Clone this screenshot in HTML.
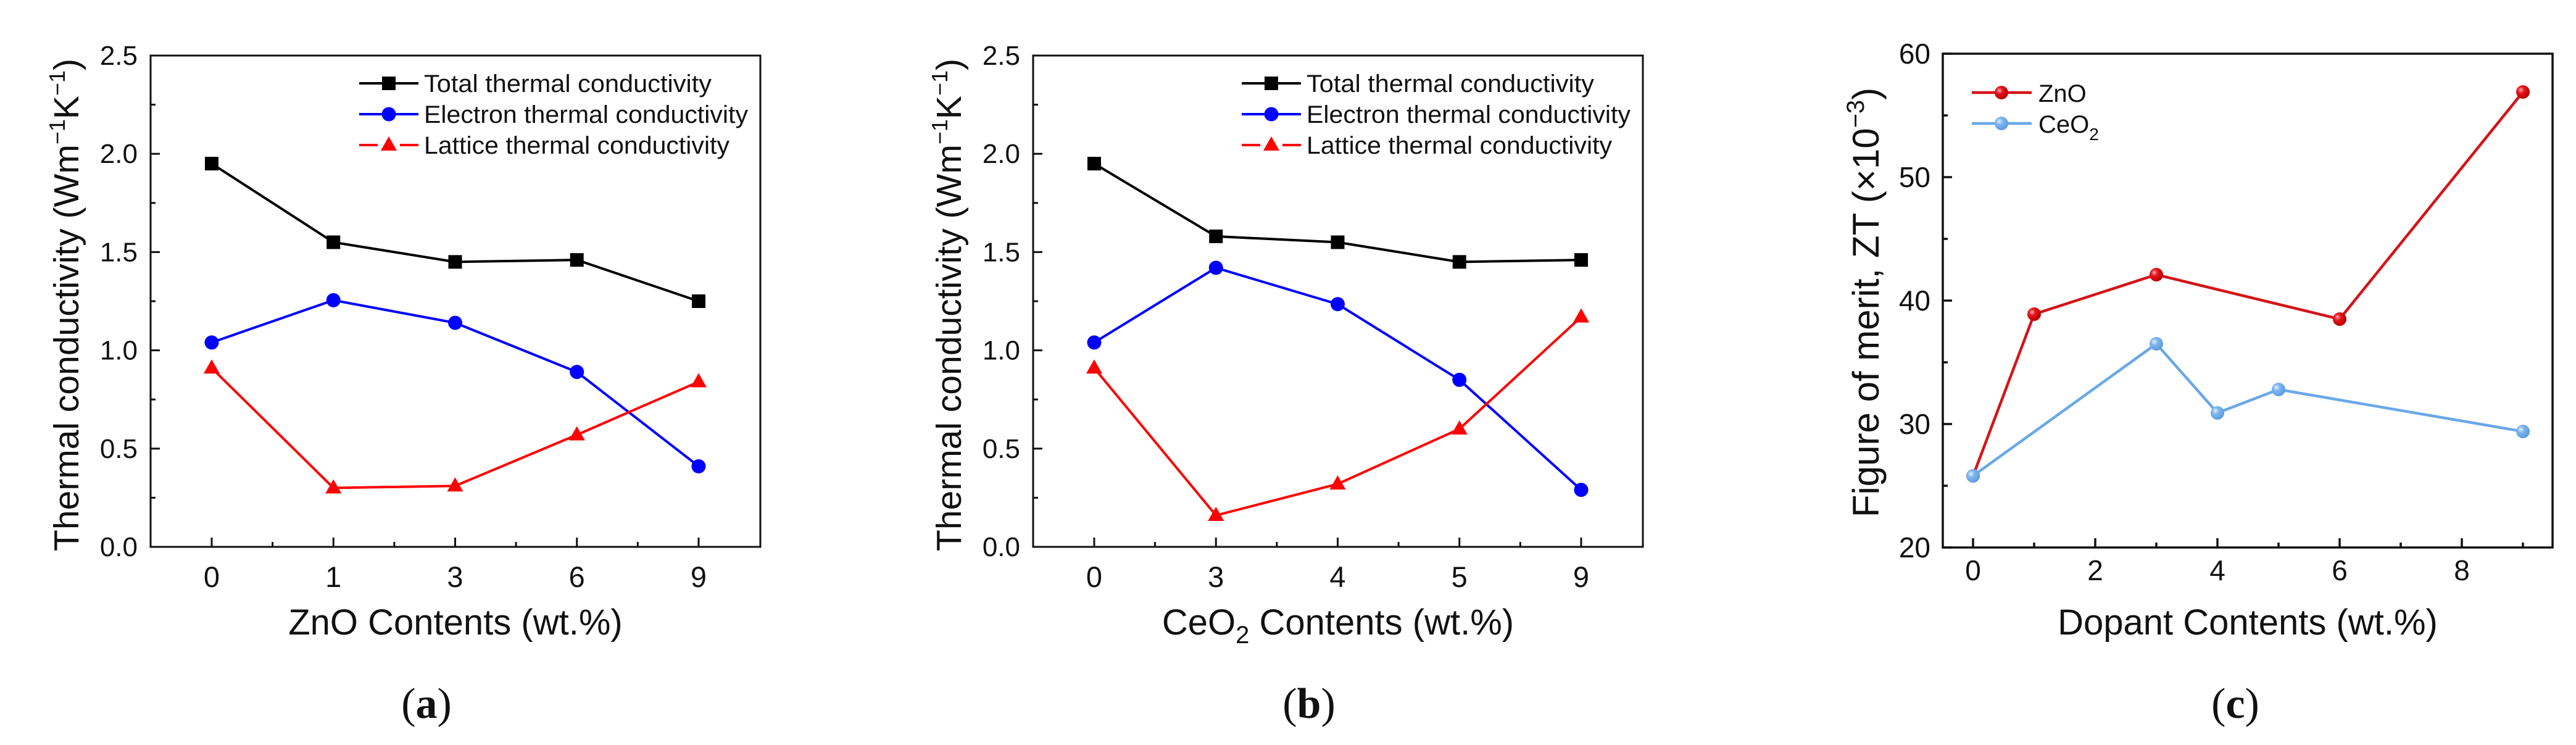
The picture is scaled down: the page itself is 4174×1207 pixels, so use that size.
<!DOCTYPE html>
<html><head><meta charset="utf-8">
<style>
html,body{margin:0;padding:0;background:#fff;}
svg{display:block;}
text{font-family:"Liberation Sans",Arial,sans-serif;fill:#111;}
.serif{font-family:"Liberation Serif","Times New Roman",serif;}
</style></head>
<body>
<svg id="fig" width="4174" height="1207" viewBox="0 0 4174 1207" xmlns="http://www.w3.org/2000/svg">
<defs>
<radialGradient id="gRed" cx="0.35" cy="0.35" r="0.7"><stop offset="0" stop-color="#ffb0b0"/><stop offset="0.35" stop-color="#e8141a"/><stop offset="1" stop-color="#b00000"/></radialGradient>
<radialGradient id="gBlue" cx="0.35" cy="0.35" r="0.7"><stop offset="0" stop-color="#e6f2ff"/><stop offset="0.35" stop-color="#7fb6ee"/><stop offset="1" stop-color="#5a9ae0"/></radialGradient>
</defs>
</svg>
<script>
// ---------- Data ----------
const catsA = ["0","1","3","6","9"];
const totalA = [1.95,1.55,1.45,1.46,1.25];
const electronA = [1.04,1.255,1.14,0.89,0.41];
const latticeA = [0.91,0.30,0.31,0.57,0.84];

const catsB = ["0","3","4","5","9"];
const totalB = [1.95,1.58,1.55,1.45,1.46];
const electronB = [1.04,1.42,1.235,0.85,0.29];
const latticeB = [0.91,0.16,0.32,0.60,1.17];

const yTicksAB = ["0.0","0.5","1.0","1.5","2.0","2.5"];

const znoX = [0,1,3,6,9];
const znoZT = [25.8,38.9,42.1,38.5,56.9];
const ceoX = [0,3,4,5,9];
const ceoZT = [25.8,36.5,30.9,32.8,29.4];
const xTicksC = [0,2,4,6,8];
const yTicksC = [20,30,40,50,60];

const NS = "http://www.w3.org/2000/svg";
const svg = document.getElementById('fig');
function mk(tag, attrs, parent){
  const e = document.createElementNS(NS, tag);
  for (const k in attrs) e.setAttribute(k, attrs[k]);
  (parent||svg).appendChild(e);
  return e;
}

function panelAB(off, cats, tot, ele, lat, xTitleParts, label, gname){
  const g = mk('g', {});
  
  
  const L = 244+off, R = 1232+off, T = 90, B = 886;
  const x0 = 343+off, dx = 197.25;
  const xs = i => x0 + i*dx;
  const ys = v => B - (v/2.5)*(B-T);
  // frame
  const fr = mk('rect', {x:L, y:T, width:R-L, height:B-T, fill:'none', stroke:'#111', 'stroke-width':3}, g);
  
  
  // y ticks
  yTicksAB.forEach((t, i) => {
    const v = parseFloat(t);
    const y = ys(v);
    mk('line', {x1:L, x2:L+15, y1:y, y2:y, stroke:'#111', 'stroke-width':3}, g);
    if (i < yTicksAB.length-1) {
      const ym = ys(v+0.25);
      mk('line', {x1:L, x2:L+8, y1:ym, y2:ym, stroke:'#111', 'stroke-width':3}, g);
    }
    const tx = mk('text', {x:L-21, y:y+15, 'font-size':44, 'text-anchor':'end'}, g);
    tx.textContent = t;
    
    
  });
  // x ticks
  cats.forEach((c, i) => {
    const x = xs(i);
    mk('line', {x1:x, x2:x, y1:B, y2:B-15, stroke:'#111', 'stroke-width':3}, g);
    if (i < cats.length-1) {
      const xm = x + dx/2;
      mk('line', {x1:xm, x2:xm, y1:B, y2:B-8, stroke:'#111', 'stroke-width':3}, g);
    }
    const tx = mk('text', {x:x, y:951, 'font-size':47, 'text-anchor':'middle'}, g);
    tx.textContent = c;
    
    
  });
  // series
  const series = [
    {vals:tot, color:'#000', m:'square', name:'total-series'},
    {vals:ele, color:'#0000ff', m:'circle', name:'electron-series'},
    {vals:lat, color:'#ff0000', m:'triangle', name:'lattice-series'}
  ];
  function marker(type, x, y, color, parent){
    let e;
    if (type==='square') e = mk('rect', {x:x-11, y:y-11, width:22, height:22, fill:color}, parent);
    else if (type==='circle') e = mk('circle', {cx:x, cy:y, r:11.5, fill:color}, parent);
    else e = mk('polygon', {points:`${x},${y-14} ${x-13},${y+9} ${x+13},${y+9}`, fill:color}, parent);
    return e;
  }
  series.forEach(s => {
    const sg = mk('g', {}, g);
    
    
    const pts = s.vals.map((v,i)=>`${xs(i)},${ys(v)}`).join(' ');
    mk('polyline', {points:pts, fill:'none', stroke:s.color, 'stroke-width':4}, sg);
    s.vals.forEach((v,i)=>{
      const m = marker(s.m, xs(i), ys(v), s.color, sg);
      
      
    });
  });
  // legend
  const lg = mk('g', {}, g);
  
  
  const legTexts = ["Total thermal conductivity","Electron thermal conductivity","Lattice thermal conductivity"];
  const legLens = [466, 525, 495];
  series.forEach((s, i) => {
    const y = 135 + i*50;
    const eg = mk('g', {}, lg);
    
    
    if (s.m === 'triangle') {
      mk('line', {x1:582+off, x2:612+off, y1:y, y2:y, stroke:s.color, 'stroke-width':4}, eg);
      mk('line', {x1:648+off, x2:678+off, y1:y, y2:y, stroke:s.color, 'stroke-width':4}, eg);
    } else {
      mk('line', {x1:582+off, x2:678+off, y1:y, y2:y, stroke:s.color, 'stroke-width':4}, eg);
    }
    marker(s.m, 630+off, y, s.color, eg);
    const tx = mk('text', {x:687+off, y:y+14, 'font-size':40, textLength:legLens[i], lengthAdjust:'spacingAndGlyphs'}, eg);
    tx.textContent = legTexts[i];
  });
  // y title
  const yt = mk('text', {x:0, y:0, 'font-size':57, 'text-anchor':'middle', transform:`translate(${127+off},494) rotate(-90)`}, g);
  
  
  yt.innerHTML = 'Thermal conductivity (Wm<tspan dy="-22" font-size="36">−1</tspan><tspan dy="22">K</tspan><tspan dy="-22" font-size="36">−1</tspan><tspan dy="22">)</tspan>';
  // x title
  const xt = mk('text', {x:(L+R)/2, y:1028, 'font-size':58, 'text-anchor':'middle'}, g);
  
  
  xt.innerHTML = xTitleParts;
  // panel label
  const pl = mk('text', {x:691+off, y:1163, 'font-size':70, 'text-anchor':'middle', class:'serif'}, g);
  
  
  pl.innerHTML = `(<tspan font-weight="bold">${label}</tspan>)`;
}

panelAB(0, catsA, totalA, electronA, latticeA, 'ZnO Contents (wt.%)', 'a', 'panel-a');
panelAB(1430, catsB, totalB, electronB, latticeB, 'CeO<tspan dy="14" font-size="40">2</tspan><tspan dy="-14"> Contents (wt.%)</tspan>', 'b', 'panel-b');

// ---------- Panel C ----------
(function(){
  const g = mk('g', {});
  
  
  const L = 3148, R = 4136, T = 87, B = 887;
  const x0 = 3197, ux = 99;
  const xs = v => x0 + v*ux;
  const ys = v => B - (v-20)/40*(B-T);
  const fr = mk('rect', {x:L, y:T, width:R-L, height:B-T, fill:'none', stroke:'#111', 'stroke-width':3.5}, g);
  
  
  yTicksC.forEach((v, i) => {
    const y = ys(v);
    mk('line', {x1:L, x2:L+15, y1:y, y2:y, stroke:'#111', 'stroke-width':3.5}, g);
    if (i < yTicksC.length-1) { const ym = ys(v+5); mk('line', {x1:L, x2:L+8, y1:ym, y2:ym, stroke:'#111', 'stroke-width':3.5}, g); }
    const tx = mk('text', {x:3128, y:y+16, 'font-size':46, 'text-anchor':'end'}, g);
    tx.textContent = v;
    
    
  });
  for (let v = 0; v <= 9; v++) {
    const x = xs(v);
    const major = xTicksC.includes(v);
    mk('line', {x1:x, x2:x, y1:B, y2:B-(major?15:8), stroke:'#111', 'stroke-width':3.5}, g);
  }
  xTicksC.forEach(v => {
    const tx = mk('text', {x:xs(v), y:940, 'font-size':46, 'text-anchor':'middle'}, g);
    tx.textContent = v;
    
    
  });
  const series = [
    {xv:znoX, yv:znoZT, color:'#d41418', grad:'url(#gRed)', name:'zno-series'},
    {xv:ceoX, yv:ceoZT, color:'#6aa8e8', grad:'url(#gBlue)', name:'ceo2-series'}
  ];
  series.forEach(s => {
    const sg = mk('g', {}, g);
    
    
    const pts = s.xv.map((x,i)=>`${xs(x)},${ys(s.yv[i])}`).join(' ');
    mk('polyline', {points:pts, fill:'none', stroke:s.color, 'stroke-width':4.5}, sg);
    s.xv.forEach((x,i)=>{
      const c = mk('circle', {cx:xs(x), cy:ys(s.yv[i]), r:11, fill:s.grad}, sg);
      
      
    });
  });
  // legend
  const lg = mk('g', {}, g);
  
  
  const legLabels = ['ZnO', 'CeO<tspan dy="12" font-size="28">2</tspan>'];
  series.forEach((s,i)=>{
    const y = 150 + i*50;
    const eg = mk('g', {}, lg);
    
    
    mk('line', {x1:3195, x2:3292, y1:y, y2:y, stroke:s.color, 'stroke-width':4.5}, eg);
    mk('circle', {cx:3243, cy:y, r:11, fill:s.grad}, eg);
    const tx = mk('text', {x:3303, y:y+15, 'font-size':40}, eg);
    tx.innerHTML = legLabels[i];
  });
  const yt = mk('text', {x:0, y:0, 'font-size':60, 'text-anchor':'middle', transform:'translate(3044,490) rotate(-90)'}, g);
  
  
  yt.innerHTML = 'Figure of merit, ZT (×10<tspan dy="-24" font-size="40">−3</tspan><tspan dy="24">)</tspan>';
  const xt = mk('text', {x:(L+R)/2, y:1028, 'font-size':58, 'text-anchor':'middle'}, g);
  
  
  xt.textContent = 'Dopant Contents (wt.%)';
  const pl = mk('text', {x:3622, y:1163, 'font-size':70, 'text-anchor':'middle', class:'serif'}, g);
  
  
  pl.innerHTML = '(<tspan font-weight="bold">c</tspan>)';
})();
</script>
</body></html>
